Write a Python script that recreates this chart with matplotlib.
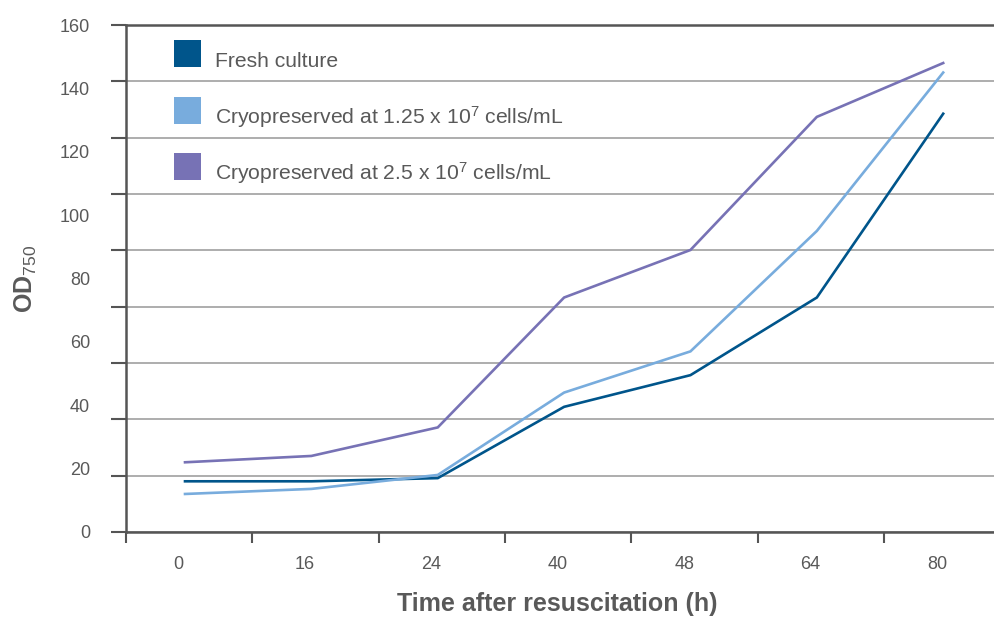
import numpy as np
import matplotlib
matplotlib.use("Agg")
import matplotlib.pyplot as plt
from matplotlib.patches import Rectangle

plt.rcParams['font.family'] = ['Liberation Sans', 'DejaVu Sans']
plt.rcParams['mathtext.fontset'] = 'custom'
plt.rcParams['mathtext.rm'] = 'Liberation Sans'
plt.rcParams['mathtext.bf'] = 'Liberation Sans:bold'
plt.rcParams['mathtext.default'] = 'regular'

# time points (h), plotted as evenly spaced categories
hours = ['0', '16', '24', '40', '48', '64', '80']
fresh = [16, 16, 17, 39.5, 49.5, 74, 132]
cryo_125 = [12, 13.6, 18, 44, 57, 95, 145]
cryo_25 = [22, 24, 33, 74, 89, 131, 148]

series_names = ['Fresh culture',
                'Cryopreserved at 1.25 x 10$^7$ cells/mL',
                'Cryopreserved at 2.5 x 10$^7$ cells/mL']
series_colors = ['#00558b', '#78acdd', '#7772b5']

ytick_labels = [0, 20, 40, 60, 80, 100, 120, 140, 160]

axis_col = '#555555'
text_col = '#595959'

W, H = 995, 621
fig = plt.figure(figsize=(W / 100, H / 100), dpi=100)
ax = fig.add_axes([126 / W, 1 - 532 / H, (W - 126) / W, (532 - 25) / H])

x = np.arange(len(hours))
for vals, col in zip([fresh, cryo_125, cryo_25], series_colors):
    ax.plot(x, vals, color=col, lw=1.9, solid_joinstyle='miter', zorder=3)

# x axis: tick marks between categories, labels under each category
shift = 0.467
ax.set_xlim(-shift, 6.41)
ax.set_xticks(x - shift)
ax.set_xticklabels([])
ax.set_xticks(x - 0.05, minor=True)
ax.set_xticklabels(hours, minor=True)
ax.tick_params(axis='x', which='major', direction='out', length=8,
               width=1.5, color=axis_col)
ax.tick_params(axis='x', which='minor', length=0, pad=17,
               labelsize=13, labelcolor=text_col)

# y axis: 9 grid bands, 8 labelled steps
ax.yaxis.remove_overlapping_locs = False
ax.set_ylim(0, 160)
ax.set_yticks(np.linspace(0, 160, 10))
ax.set_yticklabels([])
ax.set_yticks(ytick_labels, minor=True)
ax.set_yticklabels([str(v) for v in ytick_labels], minor=True)
ax.tick_params(axis='y', which='major', direction='out', length=10.5,
               width=1.5, color=axis_col)
ax.tick_params(axis='y', which='minor', length=0, pad=26,
               labelsize=13, labelcolor=text_col)
ax.grid(axis='y', which='major', color='#a0a0a0', lw=1.2, zorder=0)

for side in ['left', 'bottom', 'top']:
    ax.spines[side].set_color(axis_col)
    ax.spines[side].set_linewidth(1.8)
ax.spines['right'].set_visible(False)

# legend drawn by hand over the grid
for i, (name, col) in enumerate(zip(series_names, series_colors)):
    y0 = 67 + i * 56.7
    fig.add_artist(Rectangle((174 / W, 1 - y0 / H), 27 / W, 27 / H,
                             transform=fig.transFigure, color=col, lw=0))
    fig.text(215 / W, 1 - (y0 - 0.3) / H, name, fontsize=15.2,
             color=text_col, va='baseline', ha='left')

fig.text(557 / W, 1 - 611 / H, 'Time after resuscitation (h)',
         fontsize=18, fontweight='bold', color=text_col,
         ha='center', va='baseline')
fig.text(26 / W, 1 - 279 / H, r'$\mathbf{OD}_{\mathrm{750}}$',
         fontsize=18, color=text_col, rotation=90,
         ha='center', va='center')

fig.savefig('out.png', dpi=100)
